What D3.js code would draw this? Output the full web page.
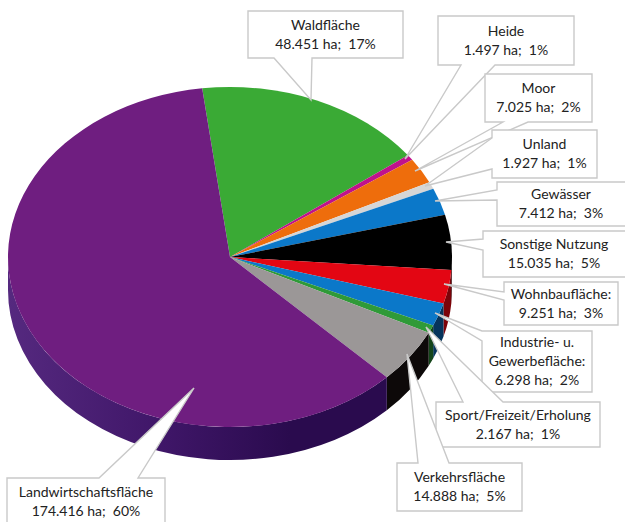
<!DOCTYPE html>
<html>
<head>
<meta charset="utf-8">
<script src="https://d3js.org/d3.v7.min.js"></script>
<style>
  body { margin: 0; background: #fff; }
  text { font-family: Lato, sans-serif; font-size: 14px; fill: #222; white-space: pre; }
</style>
</head>
<body>
<script>
// Flaechennutzung, 3d pie with callout labels

const categories = ["Waldfläche", "Heide", "Moor", "Unland", "Gewässer", "Sonstige Nutzung",
    "Wohnbaufläche:", "Industrie- u.\nGewerbefläche:", "Sport/Freizeit/Erholung",
    "Verkehrsfläche", "Landwirtschaftsfläche"];
const hectares = [48451, 1497, 7025, 1927, 7412, 15035, 9251, 6298, 2167, 14888, 174416];
const topColors = ["#3aaa35", "#c0128c", "#ee6d0c", "#d6d6d6", "#0b78c9", "#000000",
    "#e30613", "#0b78c9", "#2f9a38", "#9b9797", "#6f1e80"];
const sideColors = ["#1f5c1c", "#66084a", "#7f3906", "#707070", "#063f6b", "#000000",
    "#7c0309", "#06345c", "#14451a", "#0d0909", "url(#purpleSide)"];

const width = 625, height = 522;
const cx = 230, cy = 257, rx = 222, ry = 170, depth = 33;
const startDeg = -7.2;

// callout boxes: [left, top, right, bottom], wedge base points and tip
const callouts = [
    {box: [248, 11, 403, 58], side: "bottom", base: [274, 312], tip: [311, 100]},
    {box: [438, 16, 574, 65], side: "bottom", base: [461, 495], tip: [405, 159]},
    {box: [485, 74, 592, 122], side: "bottom", base: [503, 528], tip: [415, 171]},
    {box: [492, 130, 597, 178], side: "left", base: [138, 169], tip: [425, 186]},
    {box: [497, 182, 640, 226], side: "left", base: [190, 200], tip: [435, 201]},
    {box: [483, 231, 640, 277], side: "left", base: [239, 250], tip: [446, 242]},
    {box: [504, 282, 618, 325], side: "left", base: [292, 300], tip: [444, 284]},
    {box: [482, 331, 592, 392], side: "left", base: [331, 341], tip: [435, 313]},
    {box: [436, 402, 600, 447], side: "top", base: [463, 503], tip: [426, 327]},
    {box: [397, 463, 522, 511], side: "top", base: [418, 449], tip: [407, 354]},
    {box: [7, 478, 165, 530], side: "top", base: [99, 138], tip: [194, 388]}
];

const svg = d3.select("body").append("svg")
    .attr("width", width)
    .attr("height", height)
    .style("display", "block");

const grad = svg.append("defs").append("linearGradient")
    .attr("id", "purpleSide")
    .attr("gradientUnits", "userSpaceOnUse")
    .attr("x1", cx - rx).attr("x2", cx + 60)
    .attr("y1", 0).attr("y2", 0);
grad.append("stop").attr("offset", "0").attr("stop-color", "#55297f");
grad.append("stop").attr("offset", "0.55").attr("stop-color", "#3f1668");
grad.append("stop").attr("offset", "1").attr("stop-color", "#2a0b4e");

const pie = d3.pie()
    .sort(null)
    .startAngle(startDeg * Math.PI / 180)
    .endAngle(startDeg * Math.PI / 180 + 2 * Math.PI);
const slices = pie(hectares);

const arc = d3.arc().innerRadius(0).outerRadius(rx);

const px = a => cx + rx * Math.sin(a);
const py = a => cy - ry * Math.cos(a);

// outer wall, only the part of a slice on the front half of the ellipse
function wall(d) {
    const a0 = Math.max(d.startAngle, Math.PI / 2);
    const a1 = Math.min(d.endAngle, 3 * Math.PI / 2);
    if (a1 <= a0) return null;
    return `M${px(a0)},${py(a0)}A${rx},${ry} 0 0 1 ${px(a1)},${py(a1)}` +
        `L${px(a1)},${py(a1) + depth}A${rx},${ry} 0 0 0 ${px(a0)},${py(a0) + depth}Z`;
}

svg.append("g").selectAll("path")
    .data(slices)
    .enter()
    .append("path")
    .attr("d", wall)
    .attr("fill", (d, i) => sideColors[i]);

svg.append("g")
    .attr("transform", `translate(${cx},${cy}) scale(1,${ry / rx})`)
    .selectAll("path")
    .data(slices)
    .enter()
    .append("path")
    .attr("d", arc)
    .attr("fill", (d, i) => topColors[i]);

// labels
const total = d3.sum(hectares);
const de = d3.formatLocale({decimal: ",", thousands: ".", grouping: [3], currency: ["", " €"]});
const fmtHa = de.format(",d");
const fmtPct = d3.format(".0%");

function calloutPath(c) {
    const [l, t, r, b] = c.box;
    const [b0, b1] = c.base;
    const [tx, ty] = c.tip;
    if (c.side === "bottom")
        return `M${l},${t}H${r}V${b}H${b1}L${tx},${ty}L${b0},${b}H${l}Z`;
    if (c.side === "top")
        return `M${l},${t}H${b0}L${tx},${ty}L${b1},${t}H${r}V${b}H${l}Z`;
    return `M${l},${t}H${r}V${b}H${l}V${b1}L${tx},${ty}L${l},${b0}Z`;
}

const labels = svg.append("g").selectAll("g")
    .data(callouts)
    .enter()
    .append("g");

labels.append("path")
    .attr("d", calloutPath)
    .attr("fill", "#fff")
    .attr("stroke", "#c9c9c9")
    .attr("stroke-width", 1.4);

labels.each(function (c, i) {
    const lines = categories[i].split("\n")
        .concat(`${fmtHa(hectares[i])} ha;  ${fmtPct(hectares[i] / total)}`);
    const mid = (c.box[0] + Math.min(c.box[2], width)) / 2;
    const lineH = 19;
    // the last box runs off the bottom of the page, so its text is set from the visible part
    const bottom = Math.min(c.box[3], height + 8);
    const top = i === 10 ? 497 : (c.box[1] + bottom) / 2 - (lines.length - 1) * lineH / 2 + 4.5;
    d3.select(this).selectAll("text")
        .data(lines)
        .enter()
        .append("text")
        .attr("x", mid)
        .attr("y", (d, j) => top + j * lineH)
        .attr("text-anchor", "middle")
        .text(d => d);
});
</script>
</body>
</html>
